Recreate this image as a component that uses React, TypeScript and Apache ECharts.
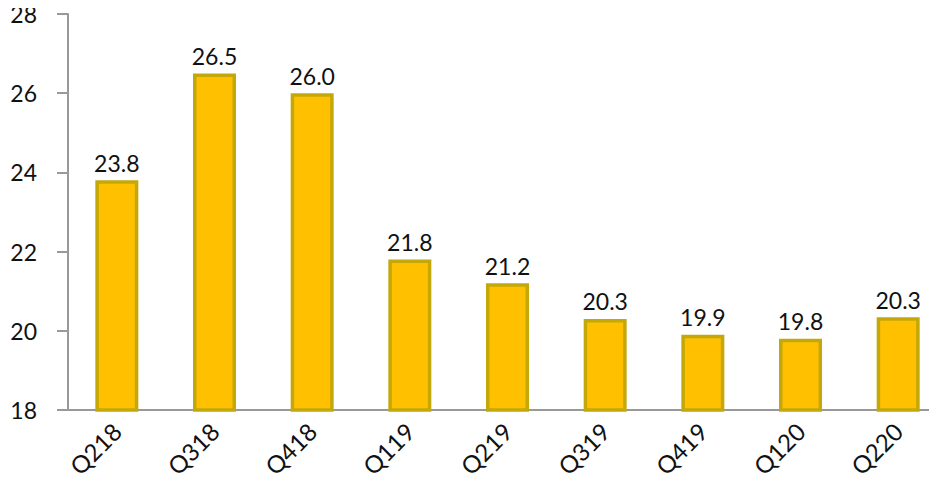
import React, { useEffect, useRef } from "react";
import * as echarts from "echarts";

const categories = ["Q218", "Q318", "Q418", "Q119", "Q219", "Q319", "Q419", "Q120", "Q220"];
const values = [23.8, 26.5, 26.0, 21.8, 21.2, 20.3, 19.9, 19.8, 20.34];
const yMin = 18;
const yMax = 28;
const yInterval = 2;

export default function App() {
  const ref = useRef<HTMLDivElement>(null);
  useEffect(() => {
    const chart = echarts.init(ref.current!, null, { renderer: "svg" });
    const font = "Lato, 'Noto Sans', sans-serif";
    const fs = 23;
    chart.setOption({
      animation: false,
      grid: { left: 68, top: 14, width: 879, height: 396, containLabel: false, outerBoundsMode: "none" },
      xAxis: {
        type: "category",
        data: categories,
        axisLine: { lineStyle: { color: "#999999", width: 2 } },
        axisTick: { alignWithLabel: true, length: 10, lineStyle: { color: "#999999", width: 2 } },
        axisLabel: { rotate: 45, margin: 17, color: "#111", fontSize: 24, fontFamily: font },
      },
      yAxis: {
        type: "value",
        min: yMin,
        max: yMax,
        interval: yInterval,
        axisLine: { show: true, lineStyle: { color: "#999999", width: 2 } },
        axisTick: { show: true, length: 11, lineStyle: { color: "#999999", width: 2 } },
        splitLine: { show: false },
        axisLabel: { margin: 31, color: "#111", fontSize: fs, fontFamily: font },
      },
      series: [
        {
          type: "bar",
          data: values,
          barWidth: 43,
          itemStyle: { color: "#FFC000", borderColor: "#C4A80A", borderWidth: 3.5 },
          label: {
            show: true,
            position: "top",
            distance: 6,
            color: "#111",
            fontSize: fs,
            fontFamily: font,
            formatter: (p: any) => Number(p.value).toFixed(1),
          },
        },
      ],
    });
    return () => chart.dispose();
  }, []);
  return <div ref={ref} style={{ width: 937, height: 486, margin: -8 }} />;
}
